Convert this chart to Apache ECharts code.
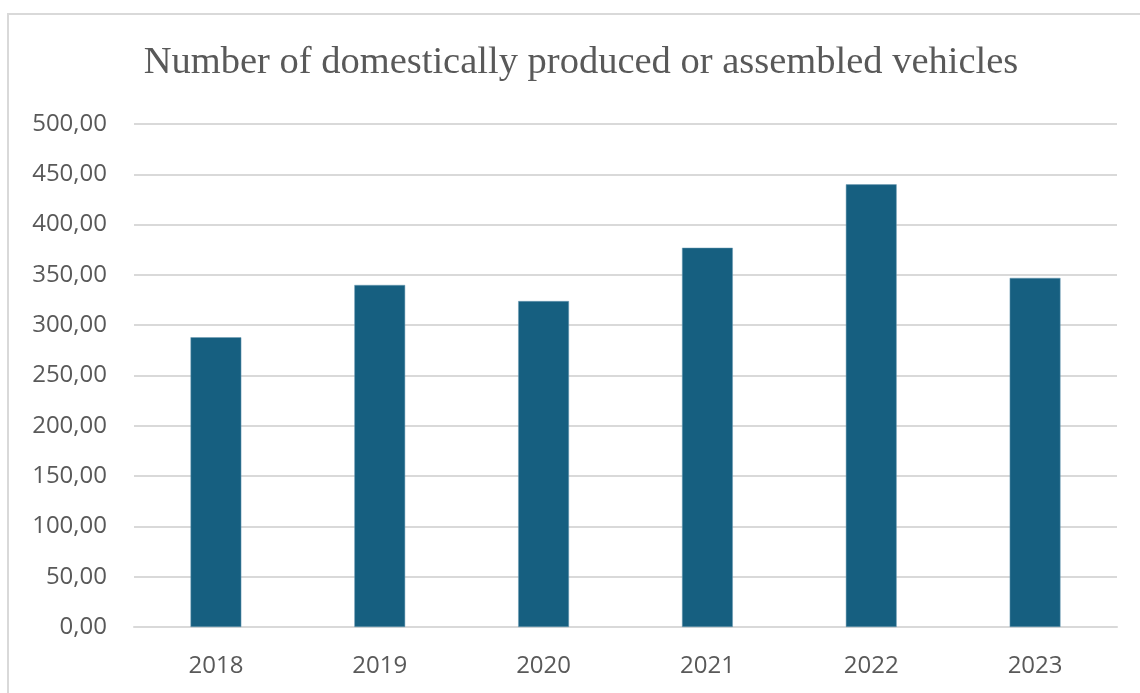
<!DOCTYPE html>
<html><head><meta charset="utf-8">
<script src="https://cdn.jsdelivr.net/npm/echarts@6/dist/echarts.min.js"></script>
<style>
html,body{margin:0;padding:0;background:#fff;overflow:hidden;}
#frame{position:absolute;left:7px;top:13px;width:1160px;height:720px;border:2px solid #d9d9d9;box-sizing:border-box;}
#chart{position:absolute;left:0;top:0;width:1140px;height:693px;}
</style></head>
<body>
<div id="frame"></div>
<div id="chart"></div>
<script>
const titleText = "Number of domestically produced or assembled vehicles";
const categories = ["2018","2019","2020","2021","2022","2023"];
const values = [288, 340, 324, 377, 440, 347];
const yMin = 0, yMax = 500, yStep = 50;

const chart = echarts.init(document.getElementById('chart'));
chart.setOption({
  backgroundColor: 'transparent',
  animation: false,
  title: {
    text: titleText, left: 576, textAlign: 'center', top: 38,
    textStyle: {fontFamily: 'Liberation Serif', fontWeight: 'normal', fontSize: 38.5, color: '#595959'}
  },
  grid: {left: 134, right: 23, top: 124, bottom: 66, containLabel: false},
  xAxis: {
    type: 'category', data: categories,
    axisLine: {show: true, lineStyle: {color: '#d9d9d9', width: 2}},
    axisTick: {show: false},
    axisLabel: {color: '#595959', fontSize: 24, fontFamily: 'Open Sans', margin: 27}
  },
  yAxis: {
    type: 'value', min: yMin, max: yMax, interval: yStep,
    axisLine: {show: false}, axisTick: {show: false},
    splitLine: {lineStyle: {color: '#d9d9d9', width: 2}},
    axisLabel: {color: '#595959', fontSize: 24, fontFamily: 'Open Sans', margin: 27,
      formatter: v => v.toFixed(2).replace('.', ',')}
  },
  series: [{
    type: 'bar', data: values, barWidth: '31%',
    itemStyle: {color: '#165f80', borderColor: '#6f9db5', borderWidth: 0.5}
  }]
});
</script>
</body></html>
